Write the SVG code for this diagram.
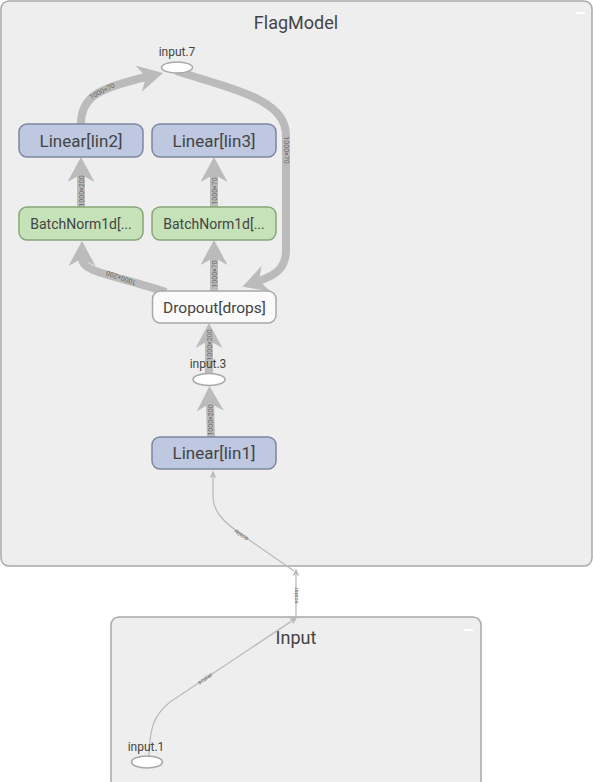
<svg xmlns="http://www.w3.org/2000/svg" width="593" height="782" viewBox="0 0 593 782">
<style>
.cluster{fill:#eeeeee;stroke:#a8a8a8;stroke-width:1.5}
.ctitle{font-family:Roboto,"Liberation Sans",sans-serif;font-size:18px;fill:#444;text-anchor:middle}
.minus{stroke:#ffffff;stroke-width:2}
.lin{fill:#bec8e0;stroke:#7d87a0;stroke-width:1.5}
.bn{fill:#c6e2b8;stroke:#86a878;stroke-width:1.5}
.drop{fill:#fafafa;stroke:#a8a8a8;stroke-width:1.5}
.ell{fill:#ffffff;stroke:#a8a8a8;stroke-width:1.5}
.nl{font-family:Roboto,"Liberation Sans",sans-serif;fill:#444;text-anchor:middle}
.sl{font-family:Roboto,"Liberation Sans",sans-serif;font-size:12px;fill:#444;text-anchor:middle}
.thick{fill:none;stroke:#bbbbbb;stroke-width:8;marker-end:url(#big)}
.thin{fill:none;stroke:#bbbbbb;stroke-width:1.3;marker-end:url(#small)}
.el{font-family:Roboto,"Liberation Sans",sans-serif;font-size:7px;fill:#666;text-anchor:middle}
.es{font-family:Roboto,"Liberation Sans",sans-serif;font-size:6px;fill:#666;text-anchor:middle}
</style>
<defs>
<marker id="big" viewBox="0 0 10 10" refX="3" refY="5" markerWidth="25" markerHeight="27" markerUnits="userSpaceOnUse" orient="auto" preserveAspectRatio="none">
<path d="M0,0 L10,5 L0,10 L3,5 z" fill="#bbbbbb"/>
</marker>
<marker id="small" viewBox="0 0 10 10" refX="3" refY="5" markerWidth="8" markerHeight="7" markerUnits="userSpaceOnUse" orient="auto" preserveAspectRatio="none">
<path d="M0,0 L10,5 L0,10 L3,5 z" fill="#bbbbbb"/>
</marker>
</defs>
<rect width="593" height="782" fill="#ffffff"/>
<g id="FlagModel">
<rect class="cluster" x="1" y="1" width="591" height="565" rx="8"/>
<text class="ctitle" x="296" y="29">FlagModel</text>
<line class="minus" x1="576" y1="13" x2="585" y2="13"/>
</g>
<g id="Input">
<rect class="cluster" x="111" y="617" width="370" height="185" rx="8"/>
<text class="ctitle" x="296" y="644">Input</text>
<line class="minus" x1="464" y1="630" x2="473" y2="630"/>
</g>
<g id="connectors">
<path class="thick" d="M81,124 C81,96 100,88 146,77"/>
<path class="thick" d="M176,71 C236,90 286,100 286,135 L286,250 C286,268 276,275 259,281"/>
<path class="thick" d="M81,207 L81,174.5"/>
<path class="thick" d="M214,207 L214,174.5"/>
<path class="thick" d="M166,292 C110,274 82,272 82,258.5"/>
<path class="thick" d="M214,291 L214,257.5"/>
<path class="thick" d="M209,373 L209,340.5"/>
<path class="thick" d="M211,437 L210,403.5"/>
<path class="thin" d="M294,571 L245,537 C220,520 213,510 213,495 L213,476"/>
<path class="thin" d="M296,617 L296,574"/>
<path class="thin" d="M149,756 C150,728 153,716 170,702 L292.7,620.4"/>
<text class="el" transform="translate(102,91) rotate(-27)" y="2.5">1000×70</text>
<text class="el" transform="translate(286,150) rotate(90)" y="2.5">1000×70</text>
<text class="el" transform="translate(81,191) rotate(-90)" y="2.5">1000×200</text>
<text class="el" transform="translate(214,191) rotate(-90)" y="2.5">1000×70</text>
<text class="el" transform="translate(121,278) rotate(199)" y="2.5">1000×200</text>
<text class="el" transform="translate(214,274) rotate(-90)" y="2.5">1000×70</text>
<text class="el" transform="translate(209,345) rotate(-90)" y="2.5">1000×200</text>
<text class="el" transform="translate(210.5,420) rotate(-90)" y="2.5">1000×200</text>
<text class="es" transform="translate(241,535) rotate(215)" y="2">scalar</text>
<text class="es" transform="translate(296,595.5) rotate(-90)" y="2">scalar</text>
<text class="es" transform="translate(205,678.5) rotate(-33.6)" y="2">scalar</text>
</g>
<g id="lin2">
<rect class="lin" x="19" y="124" width="124" height="33" rx="8"/>
<text class="nl" x="81" y="146.5" font-size="17">Linear[lin2]</text>
</g>
<g id="lin3">
<rect class="lin" x="152" y="124" width="124" height="33" rx="8"/>
<text class="nl" x="214" y="146.5" font-size="17">Linear[lin3]</text>
</g>
<g id="bn1">
<rect class="bn" x="19" y="207" width="124" height="33" rx="8"/>
<text class="nl" x="81" y="228.5" font-size="14">BatchNorm1d[...</text>
</g>
<g id="bn2">
<rect class="bn" x="152" y="207" width="124" height="33" rx="8"/>
<text class="nl" x="214" y="228.5" font-size="14">BatchNorm1d[...</text>
</g>
<g id="drops">
<rect class="drop" x="152.5" y="291" width="123.5" height="32" rx="8"/>
<text class="nl" x="214.5" y="312.5" font-size="15.5">Dropout[drops]</text>
</g>
<g id="lin1">
<rect class="lin" x="152" y="437" width="124" height="32" rx="8"/>
<text class="nl" x="214" y="459" font-size="17">Linear[lin1]</text>
</g>
<g id="input7">
<text class="sl" x="177" y="56">input.7</text>
<ellipse class="ell" cx="177" cy="67.5" rx="15.5" ry="5.5"/>
</g>
<g id="input3">
<text class="sl" x="208" y="368">input.3</text>
<ellipse class="ell" cx="209" cy="379.5" rx="16" ry="6"/>
</g>
<g id="input1">
<text class="sl" x="146" y="750.5">input.1</text>
<ellipse class="ell" cx="147" cy="762" rx="15.5" ry="6"/>
</g>
</svg>
